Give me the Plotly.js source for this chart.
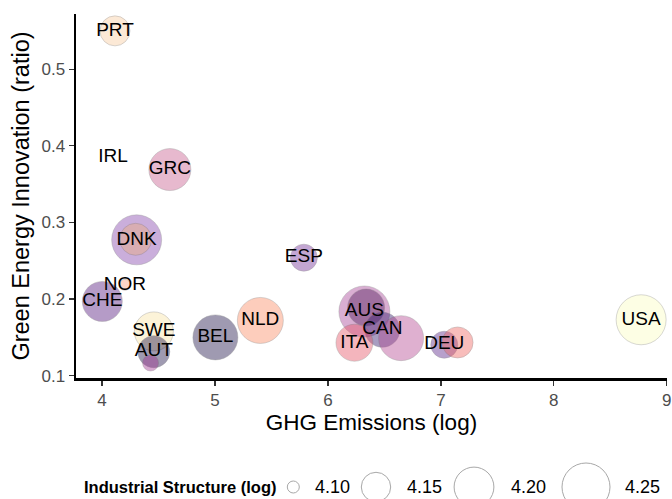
<!DOCTYPE html>
<html>
<head>
<meta charset="utf-8">
<script src="https://cdn.plot.ly/plotly-3.0.1.min.js"></script>
<style>html,body{margin:0;padding:0;background:#fff;}#chart{width:672px;height:499px;}</style>
</head>
<body>
<div id="chart"></div>
<script>
// ---- data ----
const country = ["PRT","IRL","GRC","DNK","DNK","ESP","NOR","CHE","SWE","AUT","AUT","BEL","NLD","AUS","AUS","CAN","CAN","ITA","DEU","DEU","USA"];
const ghgLog = [4.115,4.097,4.601,4.307,4.298,5.787,4.203,4.003,4.459,4.459,4.430,5.004,5.402,6.323,6.338,6.482,6.648,6.235,7.030,7.148,8.773];
const greenInnovation = [0.550,0.3855,0.369,0.2773,0.278,0.254,0.2186,0.1969,0.1578,0.1313,0.1166,0.150,0.1721,0.1838,0.189,0.160,0.149,0.143,0.1404,0.1434,0.173];
const industrialStructure = [4.1525,null,4.2125,4.2636,4.161,4.1406,4.0984,4.2011,4.1956,4.161,4.1078,4.2306,4.237,4.2706,4.185,4.175,4.2306,4.185,4.1406,4.157,4.2636];
const labelled = [true,true,true,true,false,true,true,true,true,true,false,true,true,true,false,true,false,true,true,false,true];
const xTicks = [4,5,6,7,8,9];
const yTicks = [0.1,0.2,0.3,0.4,0.5];
const legendValues = [4.10,4.15,4.20,4.25];

// ---- styles ----
const fillColors = [
  "rgba(250,205,160,0.6)","rgba(0,0,0,0)","rgba(200,90,140,0.6)","rgba(130,65,170,0.6)","rgba(236,171,124,0.6)",
  "rgba(115,45,150,0.6)","rgba(252,155,122,0.6)","rgba(81,18,124,0.6)","rgba(250,227,163,0.6)","rgba(29,17,71,0.6)",
  "rgba(160,50,145,0.6)","rgba(29,17,71,0.6)","rgba(251,136,97,0.6)","rgba(165,65,150,0.6)","rgba(80,25,90,0.6)",
  "rgba(50,25,110,0.6)","rgba(180,70,145,0.6)","rgba(230,81,100,0.6)","rgba(85,30,135,0.6)","rgba(240,100,95,0.6)",
  "rgba(252,253,191,0.6)"
];
const FONT = "Liberation Sans, Arial, Helvetica, sans-serif";
// size scale (area proportional), returns diameter in px
function sizeScale(v){ return Math.sqrt(Math.max(0, 144 + 14400*(v-4.10))); }

// layout geometry
const W = 672, H = 499;
const M = {l:76, r:5, t:14, b:121};
const pw = W - M.l - M.r, ph = H - M.t - M.b;
const px2paperX = p => (p - M.l)/pw;
const px2paperY = p => (H - M.b - p)/ph;
const legendRowPx = 487;
const legendTitlePx = 82;
const legendKeyPx = [293.3, 376, 474, 586];
const legendLabelPx = [312.7, 405, 509, 623];

// marker trace (skip points without a size value)
const idx = industrialStructure.map((v,i)=>i).filter(i=>industrialStructure[i]!==null);
const bubbles = {
  type:"scatter", mode:"markers",
  x: idx.map(i=>ghgLog[i]), y: idx.map(i=>greenInnovation[i]),
  marker:{
    size: idx.map(i=>sizeScale(industrialStructure[i])),
    sizemode:"diameter",
    color: idx.map(i=>fillColors[i]),
    line:{color:"rgba(110,110,110,0.55)", width:0.7}
  },
  cliponaxis:false, hoverinfo:"skip"
};
const lidx = country.map((c,i)=>i).filter(i=>labelled[i]);
const labels = {
  type:"scatter", mode:"text",
  x: lidx.map(i=>ghgLog[i]), y: lidx.map(i=>greenInnovation[i]),
  text: lidx.map(i=>country[i]),
  textposition:"middle center",
  textfont:{family:FONT, size:19, color:"#000"},
  cliponaxis:false, hoverinfo:"skip"
};

const shapes = legendValues.map((v,k)=>{
  const r = sizeScale(v)/2;
  return {type:"circle", xref:"paper", yref:"paper", xsizemode:"pixel", ysizemode:"pixel",
    xanchor: px2paperX(legendKeyPx[k]), yanchor: px2paperY(legendRowPx),
    x0:-r, x1:r, y0:-r, y1:r, line:{color:"#A8A8A8", width:1}, fillcolor:"rgba(0,0,0,0)"};
});
const annotations = [{
  text:"<b>Industrial Structure (log)</b>", xref:"paper", yref:"paper",
  x: px2paperX(legendTitlePx), y: px2paperY(legendRowPx), xanchor:"left", yanchor:"middle",
  showarrow:false, font:{family:FONT, size:16.5, color:"#000"}
}].concat(legendValues.map((v,k)=>({
  text: v.toFixed(2), xref:"paper", yref:"paper",
  x: px2paperX(legendLabelPx[k]), y: px2paperY(legendRowPx), xanchor:"left", yanchor:"middle",
  showarrow:false, font:{family:FONT, size:18, color:"#000"}
})));

const axisCommon = {
  showgrid:false, zeroline:false, showline:true, linecolor:"#000", linewidth:2.5,
  ticks:"outside", ticklen:5, tickwidth:1.3, tickcolor:"#333",
  tickfont:{family:FONT, size:17, color:"#4D4D4D"}, ticklabeloverflow:"allow"
};
const layout = {
  width:W, height:H, margin:M, paper_bgcolor:"#fff", plot_bgcolor:"#fff",
  showlegend:false, font:{family:FONT},
  xaxis: Object.assign({}, axisCommon, {
    range:[3.77, 9.002], tickvals:xTicks, ticktext:xTicks.map(String),
    title:{text:"GHG Emissions (log)", font:{family:FONT, size:22.5, color:"#000"}, standoff:6}
  }),
  yaxis: Object.assign({}, axisCommon, {
    range:[0.097, 0.572], tickvals:yTicks, ticktext:yTicks.map(v=>v.toFixed(1)),
    title:{text:"Green Energy Innovation (ratio)", font:{family:FONT, size:23.5, color:"#000"}, standoff:5}
  }),
  shapes: shapes, annotations: annotations
};
Plotly.newPlot("chart", [bubbles, labels], layout, {staticPlot:true});
</script>
</body>
</html>
